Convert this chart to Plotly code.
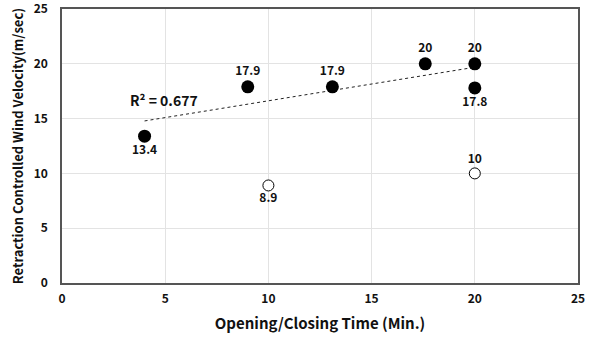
import numpy as np
import plotly.graph_objects as go

# Filled (closed) points
closed_x = [4.0, 9.0, 13.1, 17.6, 20.0, 20.0]
closed_y = [13.4, 17.9, 17.9, 20.0, 20.0, 17.8]
closed_lbl = ["13.4", "17.9", "17.9", "20", "20", "17.8"]
closed_pos = ["bottom center", "top center", "top center", "top center", "top center", "bottom center"]

# Open points
open_x = [10.0, 20.0]
open_y = [8.9, 10.0]
open_lbl = ["8.9", "10"]
open_pos = ["bottom center", "top center"]

x_ticks = [0, 5, 10, 15, 20, 25]
y_ticks = [0, 5, 10, 15, 20, 25]
r2_text = "R²\u00a0=\u00a00.677"

FONT = "Noto Sans CJK KR"

# Linear trendline through the filled points
slope, intercept = np.polyfit(closed_x, closed_y, 1)
tx = np.array([min(closed_x), max(closed_x)])
ty = slope * tx + intercept

fig = go.Figure()
fig.add_trace(go.Scatter(x=tx, y=ty, mode="lines",
                         line=dict(color="#222222", width=1, dash="dot"),
                         hoverinfo="skip", showlegend=False))
fig.add_trace(go.Scatter(x=closed_x, y=closed_y, mode="markers+text",
                         text=closed_lbl, textposition=closed_pos,
                         textfont=dict(family=FONT, size=12, color="#111111", weight="bold"),
                         marker=dict(size=13, color="black"),
                         showlegend=False))
fig.add_trace(go.Scatter(x=open_x, y=open_y, mode="markers+text",
                         text=open_lbl, textposition=open_pos,
                         textfont=dict(family=FONT, size=12, color="#111111", weight="bold"),
                         marker=dict(size=11, color="white", line=dict(color="black", width=1)),
                         showlegend=False))

fig.add_annotation(x=4.95, y=16.7, text=r2_text, showarrow=False,
                   font=dict(family=FONT, size=14, color="#111111", weight="bold"))

fig.update_layout(
    width=592, height=337,
    margin=dict(l=62, r=14, t=9, b=54, autoexpand=False),
    paper_bgcolor="white", plot_bgcolor="white",
    font=dict(family=FONT, color="#111111"),
)
fig.update_xaxes(range=[0, 25], tickvals=x_ticks, showgrid=True, gridcolor="#e3e3e3",
                 zeroline=False, showline=True, linecolor="#555555", mirror=True, linewidth=1.5,
                 tickfont=dict(family=FONT, size=12, color="#111111", weight="bold"),
                 ticklabeloverflow="allow", automargin=False, ticklabelstandoff=4,
                 title=dict(text="Opening/Closing Time (Min.)",
                            font=dict(family=FONT, size=15, color="#111111", weight="bold"), standoff=13))
fig.update_yaxes(range=[0, 25], tickvals=y_ticks, showgrid=True, gridcolor="#e3e3e3",
                 zeroline=False, showline=True, linecolor="#555555", mirror=True, linewidth=1.5,
                 tickfont=dict(family=FONT, size=12, color="#111111", weight="bold"),
                 ticklabeloverflow="allow", ticklabelstandoff=10, automargin=False,
                 title=dict(text="Retraction Controlled Wind Velocity(m/sec)",
                            font=dict(family=FONT, size=13, color="#111111", weight="bold"), standoff=7))

fig.write_html("out.html", config={"displayModeBar": False},
               post_script="document.body.style.margin='0';")
